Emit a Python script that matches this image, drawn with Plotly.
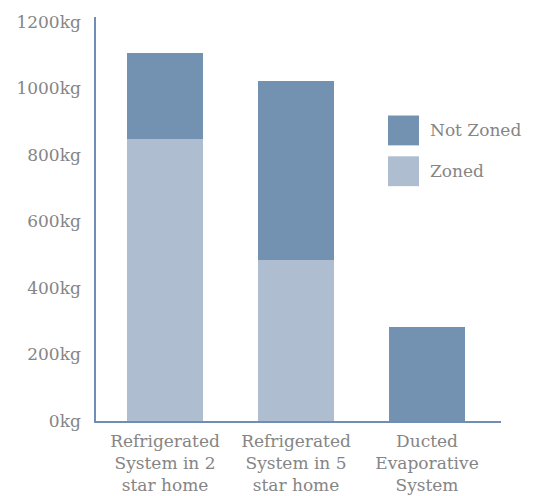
import plotly.graph_objects as go

categories = ["Refrigerated<br>System in 2<br>star home",
              "Refrigerated<br>System in 5<br>star home",
              "Ducted<br>Evaporative<br>System"]
zoned = [847, 485, 0]
not_zoned = [261, 539, 284]
series_names = ["Not Zoned", "Zoned"]
tick_vals = [0, 200, 400, 600, 800, 1000, 1200]
tick_text = ["0kg", "200kg", "400kg", "600kg", "800kg", "1000kg", "1200kg"]

C_NOT = "#7391b1"
C_ZONED = "#afbdd1"
AXIS = "#6f8db5"
TXT = "#858585"
FONT = "DejaVu Serif"

fig = go.Figure()
fig.add_trace(go.Bar(x=categories, y=zoned, name="Zoned", marker_color=C_ZONED,
                     marker_line_width=0, showlegend=False, width=0.58))
fig.add_trace(go.Bar(x=categories, y=not_zoned, name="Not Zoned", marker_color=C_NOT,
                     marker_line_width=0, showlegend=False, width=0.58))

W, H = 533, 496
L, R, T, B = 88, 40, 4, 83

# screen-space plot box (target)
SX0, SX1, SY0, SY1 = 96, 501, 15, 421

def px(x):
    return (x - SX0) / (SX1 - SX0)

def py(y):
    return (SY1 - y) / (SY1 - SY0)

# legend swatches
for i, (name, col) in enumerate(zip(series_names, [C_NOT, C_ZONED])):
    y0 = 114 + i * 41
    fig.add_shape(type="rect", xref="paper", yref="paper",
                  x0=px(388), x1=px(419), y0=py(y0 + 30), y1=py(y0),
                  fillcolor=col, line_width=0)
    fig.add_annotation(xref="paper", yref="paper", x=px(428), y=py(y0 + 15),
                       text=name, showarrow=False, xanchor="left", yanchor="middle",
                       font=dict(family=FONT, size=17, color=TXT))

fig.update_layout(
    barmode="stack",
    width=W, height=H,
    margin=dict(l=L, r=R, t=T, b=B),
    plot_bgcolor="white", paper_bgcolor="white",
    font=dict(family=FONT, size=17, color=TXT),
    xaxis=dict(range=[-0.527, 2.565], showgrid=False, showline=True,
               linecolor=AXIS, linewidth=1.5, ticks="", ticklabelstandoff=4,
               tickfont=dict(size=17, color=TXT)),
    yaxis=dict(range=[0, 1215], tickvals=tick_vals, ticktext=tick_text, showgrid=False,
               showline=True, linecolor=AXIS, linewidth=1.5, ticks="",
               ticklabelstandoff=10, zeroline=False, ticklabeloverflow="allow",
               tickfont=dict(size=17, color=TXT)),
    showlegend=False,
)

fig.write_html("out.html")
